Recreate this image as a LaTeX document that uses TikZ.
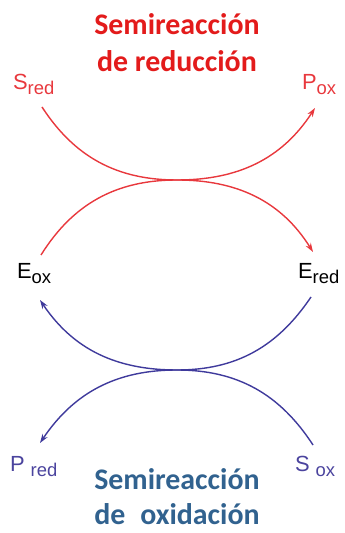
\documentclass[tikz,border=0pt]{standalone}
\usepackage{fontspec}
\setmainfont{Liberation Sans}
\newfontfamily\titlefont{Carlito}
\usepackage{xcolor}
\definecolor{redarc}{HTML}{E8383D}
\definecolor{redttl}{HTML}{E31B1B}
\definecolor{bluearc}{HTML}{3F3A9C}
\definecolor{bluelbl}{HTML}{4B449E}
\definecolor{bluettl}{HTML}{31628F}
\usetikzlibrary{arrows.meta}
\tikzset{
  lbl/.style ={inner sep=0pt, outer sep=0pt, anchor=base west,
               font=\fontsize{22}{22}\selectfont},
  ttl/.style ={inner sep=0pt, anchor=base, text depth=0pt,
               font=\titlefont\bfseries\fontsize{30}{30}\selectfont},
  rarr/.style={-{Stealth[length=9bp,width=6bp]}, line width=1.4bp, draw=redarc},
  barr/.style={-{Stealth[length=9bp,width=6bp]}, line width=1.4bp, draw=bluearc},
}
\newcommand{\lsub}[1]{\raisebox{-4.5bp}{\fontsize{18.5}{18.5}\selectfont #1}}

\begin{document}
\begin{tikzpicture}[x=1bp, y=1bp]
  \useasboundingbox (0,0) rectangle (344,533);
  % titles
  \node[ttl, text=redttl]  (red1) at (177,498) {Semireacción};
  \node[ttl, text=redttl]  (red2) at (177,461) {de reducción};
  \node[ttl, text=bluettl] (ox1)  at (177,43)  {Semireacción};
  \node[ttl, text=bluettl] (ox2)  at (177,8)   {de\enspace oxidación};
  % species
  \node[lbl, text=redarc]  (Sred) at (13,443)  {S\lsub{red}};
  \node[lbl, text=redarc]  (Pox)  at (302,443) {P\lsub{ox}};
  \node[lbl]               (Eox)  at (17,254)  {E\lsub{ox}};
  \node[lbl]               (Ered) at (298,254) {E\lsub{red}};
  \node[lbl, text=bluelbl] (Pred) at (10,61)   {P\ \lsub{red}};
  \node[lbl, text=bluelbl] (Sox)  at (295,61)  {S\ \lsub{ox}};
  % arc ends
  \coordinate (sred-a) at (42,426);
  \coordinate (pox-a)  at (315,425);
  \coordinate (eox-a)  at (41,278);
  \coordinate (ered-a) at (313,281);
  \coordinate (ered-b) at (311,236);
  \coordinate (eox-b)  at (40,233);
  \coordinate (sox-a)  at (313,88);
  \coordinate (pred-a) at (40,90);
  \coordinate (rtouch) at (177,353);
  \coordinate (btouch) at (177,163);
  % reduction
  \draw[rarr] (sred-a) to[out=-57, in=180] (rtouch) to[out=0, in=-123] (pox-a);
  \draw[rarr] (eox-a) to[out=58, in=180] (rtouch) to[out=0, in=122] (ered-a);
  % oxidation
  \draw[barr] (ered-b) to[out=-124, in=0] (btouch) to[out=180, in=-56] (eox-b);
  \draw[barr] (sox-a) to[out=123, in=0] (btouch) to[out=180, in=56] (pred-a);
\end{tikzpicture}
\end{document}
